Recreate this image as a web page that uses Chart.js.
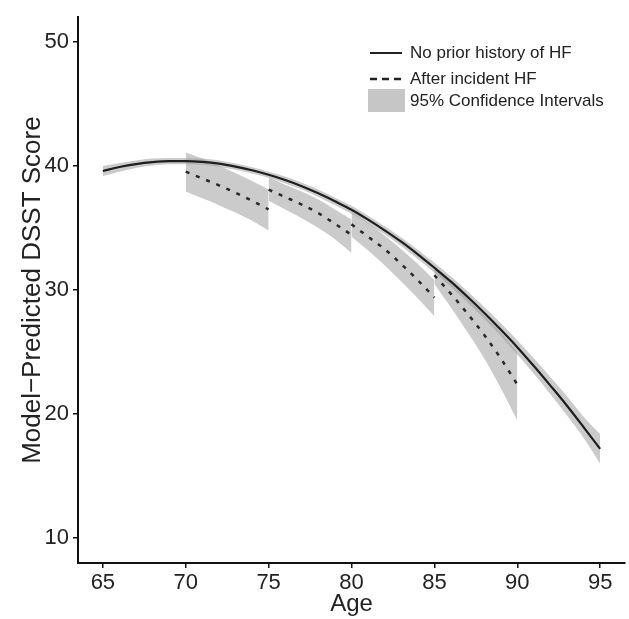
<!DOCTYPE html>
<html>
<head>
<meta charset="utf-8">
<script src="https://cdn.jsdelivr.net/npm/chart.js@4.4.0/dist/chart.umd.min.js"></script>
<style>
  html, body { margin: 0; padding: 0; background: #fff; }
</style>
</head>
<body>
<canvas id="dsstChart" width="629" height="619"></canvas>
<script>
// ages and ticks
const ages = [65, 66, 67, 68, 69, 70, 71, 72, 73, 74, 75, 76, 77, 78, 79, 80,
              81, 82, 83, 84, 85, 86, 87, 88, 89, 90, 91, 92, 93, 94, 95];
const xTicks = [65, 70, 75, 80, 85, 90, 95];
const yTicks = [10, 20, 30, 40, 50];

// no prior history of HF (solid line + its 95% CI)
const noPriorFit = [39.6, 39.92, 40.16, 40.32, 40.4, 40.4, 40.34, 40.2, 39.96, 39.66, 39.3,
                    38.88, 38.38, 37.8, 37.16, 36.48, 35.68, 34.82, 33.9, 32.88, 31.8,
                    30.68, 29.46, 28.18, 26.82, 25.4, 23.88, 22.3, 20.68, 18.96, 17.2];
const noPriorLo = [39.2, 39.55, 39.85, 40.05, 40.15, 40.15, 40.1, 39.95, 39.7, 39.4, 39.05,
                   38.6, 38.1, 37.5, 36.85, 36.15, 35.35, 34.5, 33.55, 32.5, 31.4,
                   30.25, 29.0, 27.7, 26.3, 24.8, 23.25, 21.6, 19.9, 18.1, 16.0];
const noPriorHi = [40.0, 40.25, 40.45, 40.6, 40.65, 40.65, 40.6, 40.45, 40.2, 39.9, 39.55,
                   39.15, 38.65, 38.1, 37.45, 36.8, 36.0, 35.15, 34.25, 33.25, 32.2,
                   31.1, 29.9, 28.65, 27.35, 25.95, 24.5, 23.0, 21.45, 19.8, 18.4];

// after incident HF, one segment per 5-year window
const seg1Age = [70, 71, 72, 73, 74, 75];
const seg1Fit = [39.55, 39.0, 38.45, 37.85, 37.2, 36.5];
const seg1Lo = [37.95, 37.4, 36.85, 36.25, 35.6, 34.8];
const seg1Hi = [41.1, 40.6, 40.05, 39.45, 38.8, 38.1];

const seg2Age = [75, 76, 77, 78, 79, 80];
const seg2Fit = [38.1, 37.5, 36.9, 36.2, 35.35, 34.45];
const seg2Lo = [37.2, 36.5, 35.8, 35.0, 34.1, 33.0];
const seg2Hi = [39.1, 38.5, 37.95, 37.3, 36.5, 35.7];

const seg3Age = [80, 81, 82, 83, 84, 85];
const seg3Fit = [35.3, 34.3, 33.3, 32.1, 30.8, 29.4];
const seg3Lo = [34.3, 33.2, 32.0, 30.7, 29.35, 27.9];
const seg3Hi = [36.3, 35.4, 34.4, 33.3, 32.1, 30.8];

const seg4Age = [85, 86, 87, 88, 89, 90];
const seg4Fit = [31.2, 29.7, 28.1, 26.4, 24.5, 22.4];
const seg4Lo = [30.5, 28.6, 26.6, 24.5, 22.1, 19.5];
const seg4Hi = [31.9, 30.7, 29.4, 28.0, 26.6, 25.0];

const legendLabels = ['No prior history of HF', 'After incident HF', '95% Confidence Intervals'];

const FONT = '"Liberation Sans", Arial, sans-serif';
const bandColor = 'rgba(160,160,160,0.55)';

function pts(xs, ys) {
  return xs.map((x, i) => ({ x: x, y: ys[i] }));
}

const lineStyle = { pointRadius: 0, fill: false, cubicInterpolationMode: 'monotone' };
const dash = [4, 7];

// lines first so they are drawn on top
const datasets = [
  Object.assign({ label: legendLabels[0], data: pts(ages, noPriorFit), borderColor: '#1e1e1e', borderWidth: 2.2 }, lineStyle),
  Object.assign({ label: 'seg1', data: pts(seg1Age, seg1Fit), borderColor: '#2a2a2a', borderWidth: 2.5, borderDash: dash }, lineStyle),
  Object.assign({ label: 'seg2', data: pts(seg2Age, seg2Fit), borderColor: '#2a2a2a', borderWidth: 2.5, borderDash: dash }, lineStyle),
  Object.assign({ label: 'seg3', data: pts(seg3Age, seg3Fit), borderColor: '#2a2a2a', borderWidth: 2.5, borderDash: dash }, lineStyle),
  Object.assign({ label: 'seg4', data: pts(seg4Age, seg4Fit), borderColor: '#2a2a2a', borderWidth: 2.5, borderDash: dash }, lineStyle)
];

function addBand(xs, lo, hi) {
  const loIndex = datasets.length;
  datasets.push({ label: 'lo', data: pts(xs, lo), borderWidth: 0, pointRadius: 0, fill: false,
                  borderColor: 'rgba(0,0,0,0)', cubicInterpolationMode: 'monotone' });
  datasets.push({ label: 'hi', data: pts(xs, hi), borderWidth: 0, pointRadius: 0,
                  borderColor: 'rgba(0,0,0,0)', backgroundColor: bandColor,
                  fill: { target: loIndex }, cubicInterpolationMode: 'monotone' });
}
addBand(ages, noPriorLo, noPriorHi);
addBand(seg1Age, seg1Lo, seg1Hi);
addBand(seg2Age, seg2Lo, seg2Hi);
addBand(seg3Age, seg3Lo, seg3Hi);
addBand(seg4Age, seg4Lo, seg4Hi);

// legend sits inside the plot, top right
const cornerLegend = {
  id: 'cornerLegend',
  afterDraw(chart) {
    const ctx = chart.ctx;
    ctx.save();
    ctx.font = '17px ' + FONT;
    ctx.fillStyle = '#222';
    ctx.textBaseline = 'middle';
    ctx.strokeStyle = '#222';
    ctx.lineWidth = 2;
    ctx.beginPath(); ctx.moveTo(370, 53); ctx.lineTo(402, 53); ctx.stroke();
    ctx.fillText(legendLabels[0], 410, 53);
    ctx.lineWidth = 2.5;
    ctx.setLineDash([7, 5]);
    ctx.beginPath(); ctx.moveTo(370, 79); ctx.lineTo(402, 79); ctx.stroke();
    ctx.setLineDash([]);
    ctx.fillText(legendLabels[1], 410, 79);
    ctx.fillStyle = '#c6c6c6';
    ctx.fillRect(368, 89, 37, 23);
    ctx.fillStyle = '#222';
    ctx.fillText(legendLabels[2], 410, 101);
    ctx.restore();
  }
};

const axisCommon = {
  type: 'linear',
  border: { display: true, color: '#111', width: 2 },
  grid: { display: true, drawOnChartArea: false, drawTicks: true, tickLength: 5, color: '#111', lineWidth: 1.5 }
};

new Chart(document.getElementById('dsstChart'), {
  type: 'line',
  data: { datasets: datasets },
  options: {
    responsive: false,
    animation: false,
    layout: { padding: { top: 6, right: 4, left: 0, bottom: 0 } },
    plugins: { legend: { display: false }, tooltip: { enabled: false } },
    elements: { line: { tension: 0 } },
    scales: {
      x: Object.assign({}, axisCommon, {
        min: 63.5, max: 96.5,
        afterBuildTicks: s => { s.ticks = xTicks.map(v => ({ value: v })); },
        afterFit: s => { s.height = 56; },
        ticks: { color: '#222', font: { family: FONT, size: 22 }, padding: 2 },
        title: { display: true, text: 'Age', color: '#222', font: { family: FONT, size: 24 }, padding: { top: 0, bottom: 0 } }
      }),
      y: Object.assign({}, axisCommon, {
        min: 8, max: 52,
        afterBuildTicks: s => { s.ticks = yTicks.map(v => ({ value: v })); },
        afterFit: s => { s.width = 78; },
        ticks: { color: '#222', font: { family: FONT, size: 22 }, padding: 4 },
        title: { display: true, text: 'Model\u2212Predicted DSST Score', color: '#222', font: { family: FONT, size: 26 }, padding: { top: 17, bottom: 0 } }
      })
    }
  },
  plugins: [cornerLegend]
});
</script>
</body>
</html>
